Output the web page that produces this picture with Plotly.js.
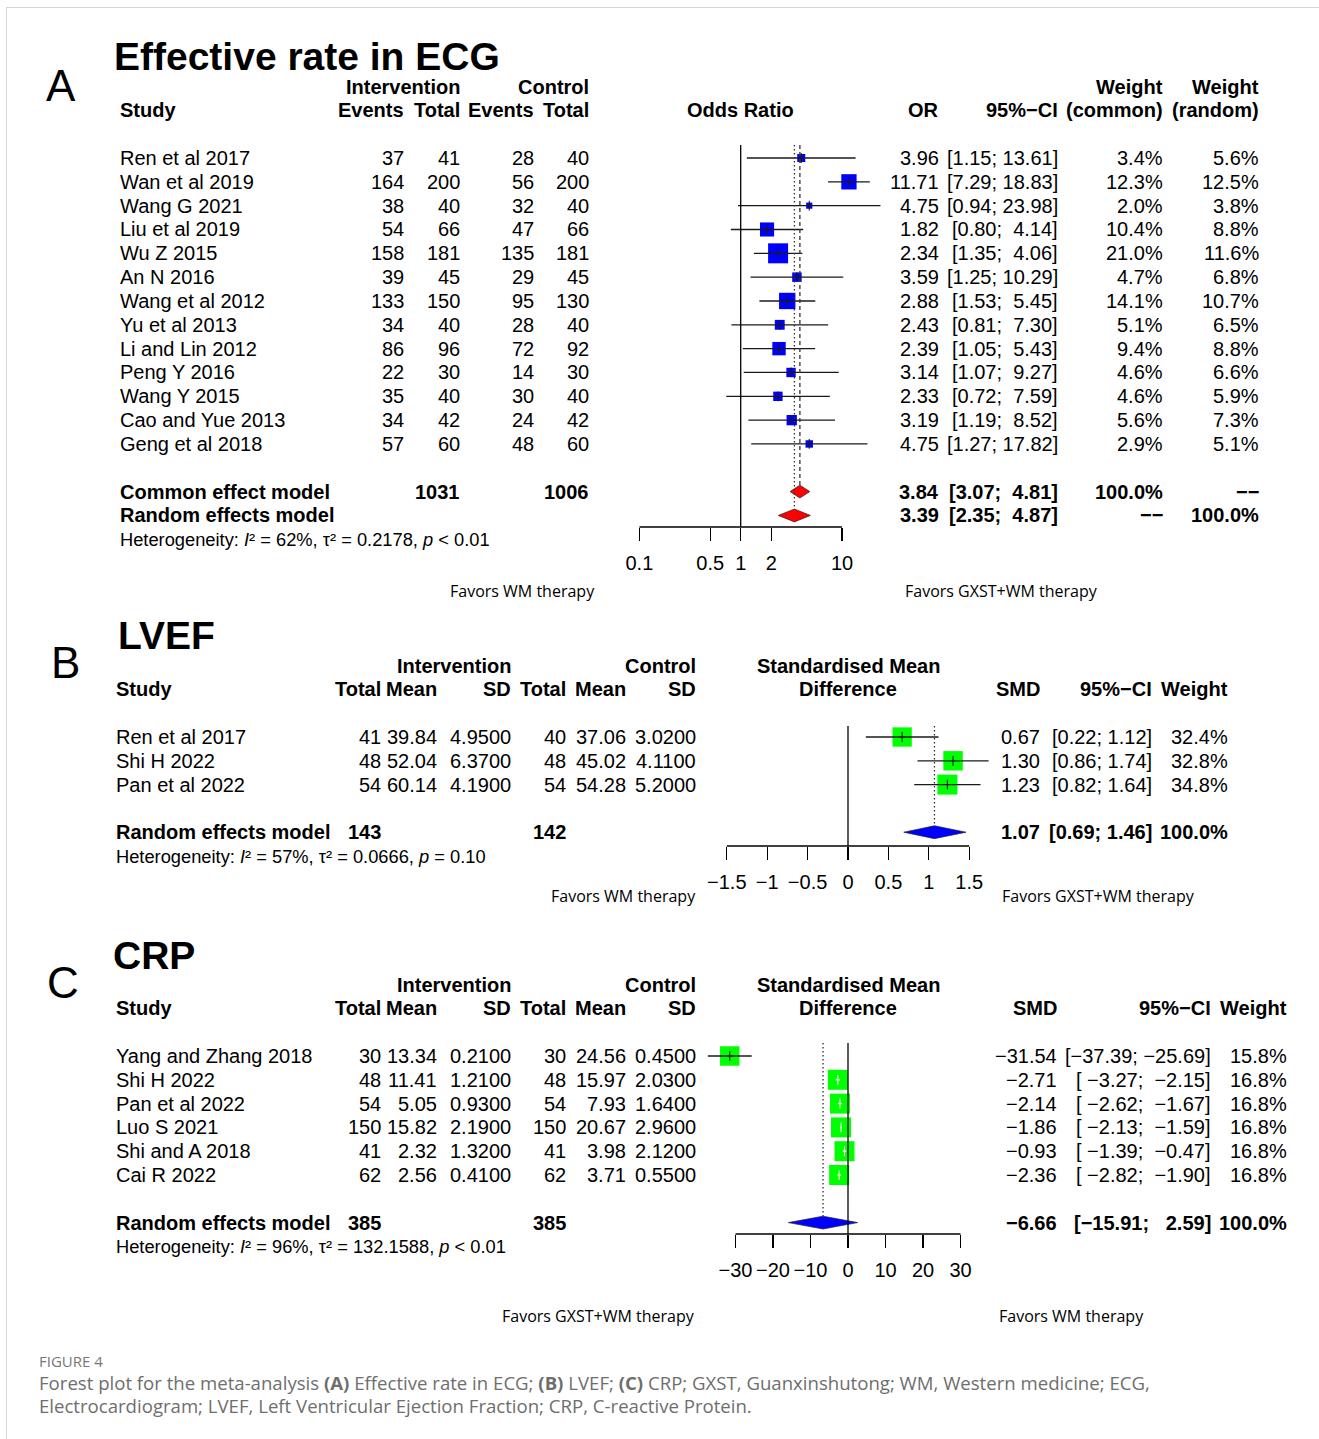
<!DOCTYPE html>
<html><head><meta charset="utf-8">
<script src="https://cdn.plot.ly/plotly-3.0.1.min.js"></script>
<style>html,body{margin:0;padding:0;background:#fff}#chart{width:1319px;height:1439px}</style>
</head><body><div id="chart"></div>
<script>
// ---------------- Panel A: Effective rate in ECG ----------------
const studiesA = ["Ren et al 2017","Wan et al 2019","Wang G 2021","Liu et al 2019","Wu Z 2015","An N 2016","Wang et al 2012","Yu et al 2013","Li and Lin 2012","Peng Y 2016","Wang Y 2015","Cao and Yue 2013","Geng et al 2018"];
const evIA = [37,164,38,54,158,39,133,34,86,22,35,34,57];
const totIA = [41,200,40,66,181,45,150,40,96,30,40,42,60];
const evCA = [28,56,32,47,135,29,95,28,72,14,30,24,48];
const totCA = [40,200,40,66,181,45,130,40,92,30,40,42,60];
const orA = [3.96,11.71,4.75,1.82,2.34,3.59,2.88,2.43,2.39,3.14,2.33,3.19,4.75];
const loA = [1.15,7.29,0.94,0.80,1.35,1.25,1.53,0.81,1.05,1.07,0.72,1.19,1.27];
const hiA = [13.61,18.83,23.98,4.14,4.06,10.29,5.45,7.30,5.43,9.27,7.59,8.52,17.82];
const wComA = [3.4,12.3,2.0,10.4,21.0,4.7,14.1,5.1,9.4,4.6,4.6,5.6,2.9];
const wRanA = [5.6,12.5,3.8,8.8,11.6,6.8,10.7,6.5,8.8,6.6,5.9,7.3,5.1];
const sumTotA = [1031, 1006];
const commonA = {est:3.84, lo:3.07, hi:4.81};
const randomA = {est:3.39, lo:2.35, hi:4.87};
const hetA = {I2:"62%", tau2:"0.2178", p:"&lt; 0.01"};
const ticksA = [0.1, 0.5, 1, 2, 10];
const tickLabA = ["0.1","0.5","1","2","10"];

// ---------------- Panel B: LVEF ----------------
const studiesB = ["Ren et al 2017","Shi H 2022","Pan et al 2022"];
const totIB = [41,48,54];
const meanIB = [39.84,52.04,60.14];
const sdIB = [4.95,6.37,4.19];
const totCB = [40,48,54];
const meanCB = [37.06,45.02,54.28];
const sdCB = [3.02,4.11,5.20];
const smdB = [0.67,1.30,1.23];
const loB = [0.22,0.86,0.82];
const hiB = [1.12,1.74,1.64];
const wB = [32.4,32.8,34.8];
const sumTotB = [143, 142];
const randomB = {est:1.07, lo:0.69, hi:1.46};
const hetB = {I2:"57%", tau2:"0.0666", p:"= 0.10"};
const ticksB = [-1.5,-1,-0.5,0,0.5,1,1.5];
const tickLabB = ["\u22121.5","\u22121","\u22120.5","0","0.5","1","1.5"];

// ---------------- Panel C: CRP ----------------
const studiesC = ["Yang and Zhang 2018","Shi H 2022","Pan et al 2022","Luo S 2021","Shi and A 2018","Cai R 2022"];
const totIC = [30,48,54,150,41,62];
const meanIC = [13.34,11.41,5.05,15.82,2.32,2.56];
const sdIC = [0.21,1.21,0.93,2.19,1.32,0.41];
const totCC = [30,48,54,150,41,62];
const meanCC = [24.56,15.97,7.93,20.67,3.98,3.71];
const sdCC = [0.45,2.03,1.64,2.96,2.12,0.55];
const smdC = [-31.54,-2.71,-2.14,-1.86,-0.93,-2.36];
const loC = [-37.39,-3.27,-2.62,-2.13,-1.39,-2.82];
const hiC = [-25.69,-2.15,-1.67,-1.59,-0.47,-1.90];
const wC = [15.8,16.8,16.8,16.8,16.8,16.8];
const sumTotC = [385, 385];
const randomC = {est:-6.66, lo:-15.91, hi:2.59};
const hetC = {I2:"96%", tau2:"132.1588", p:"&lt; 0.01"};
const ticksC = [-30,-20,-10,0,10,20,30];
const tickLabC = ["\u221230","\u221220","\u221210","0","10","20","30"];

// ---------------- helpers ----------------
const W = 1319, H = 1439;
const PX = p => p / W;
const PY = p => 1 - p / H;
const FONT = "Liberation Sans, Arial, Helvetica, sans-serif";
const NB = "\u00a0";
const DASH2 = "\u2212\u2212";
const fmt = (v, d) => v.toFixed(d).replace("-", "\u2212");
const pad = (s, n) => NB.repeat(Math.max(0, n - s.length)) + s;
function ciStrings(lo, hi, d) {
  const L = lo.map(v => fmt(v, d)), U = hi.map(v => fmt(v, d));
  const lm = Math.max(...L.map(s => s.length)), um = Math.max(...U.map(s => s.length));
  return L.map((s, i) => "[" + pad(s, lm) + ";" + NB + pad(U[i], um) + "]");
}

// Panel geometry (pixel layout of rows and forest region)
const geoA = {y1: 158, step: 23.83, top: 145, axis: 527, x0: 600, x1: 900, c: 740.7, k: 101.3};
const geoB = {y1: 737, step: 23.8, top: 726, axis: 846, x0: 700, x1: 1000, c: 848, k: 80.8};
const geoC = {y1: 1056, step: 23.8, top: 1043, axis: 1234, x0: 690, x1: 1000, c: 848, k: 3.75};
const rowAt = (g, p) => 1 + (p - g.y1) / g.step;
const rowPx = (g, r) => g.y1 + (r - 1) * g.step;

const ann = [];
function ptxt(text, xpx, ypx, o) {
  ann.push(Object.assign({
    text: text, x: PX(xpx), xref: "paper", y: PY(ypx), yref: "paper",
    xanchor: "right", yanchor: "middle", showarrow: false, borderpad: 0,
    font: {family: FONT, size: 20, color: "#000"}
  }, o || {}));
}
function txt(text, xpx, g, r, o) { ptxt(text, xpx, rowPx(g, r), o); }
const B = s => "<b>" + s + "</b>";

const traces = [];
const shapes = [];

function forest(xa, ya, est, lo, hi, w, fill, g, isLog) {
  const rows = est.map((_, i) => i + 1);
  const wmax = Math.max(...w);
  const sizes = w.map(v => 20 * Math.sqrt(v / wmax));
  const ciPx = lo.map((v, i) => isLog ? g.k * Math.log10(hi[i] / v) : g.k * (hi[i] - v));
  const inside = ciPx.map((p, i) => p < sizes[i]);
  traces.push({type: "scatter", mode: "markers", xaxis: xa, yaxis: ya, x: est, y: rows,
    marker: {symbol: "square", size: sizes, color: fill, opacity: 1, line: {width: 0}}, hoverinfo: "skip"});
  const bx = [], by = [], wx = [], wy = [];
  rows.forEach((r, i) => {
    const tx = inside[i] ? wx : bx, ty = inside[i] ? wy : by;
    tx.push(lo[i], hi[i], null); ty.push(r, r, null);
  });
  traces.push({type: "scatter", mode: "lines", xaxis: xa, yaxis: ya, x: bx, y: by,
    line: {color: "#1a1a1a", width: 1.3}, hoverinfo: "skip"});
  if (wx.length) traces.push({type: "scatter", mode: "lines", xaxis: xa, yaxis: ya, x: wx, y: wy,
    line: {color: "#fff", width: 1.3}, hoverinfo: "skip"});
  traces.push({type: "scatter", mode: "markers", xaxis: xa, yaxis: ya, x: est, y: rows,
    marker: {symbol: "line-ns", size: 7, opacity: 1, line: {width: 1.1, color: inside.map(b => b ? "#fff" : "#1a1a1a")}},
    hoverinfo: "skip"});
}
function diamond(xa, ya, s, row, fill) {
  const h = 0.27;
  traces.push({type: "scatter", mode: "lines", xaxis: xa, yaxis: ya,
    x: [s.lo, s.est, s.hi, s.est, s.lo], y: [row, row - h, row, row + h, row],
    fill: "toself", fillcolor: fill, line: {color: "#222", width: 0.7}, hoverinfo: "skip"});
}
function vline(xa, ya, x, y0, y1, dash, yref) {
  shapes.push({type: "line", xref: xa, yref: yref || ya, x0: x, x1: x, y0: y0, y1: y1,
    line: {color: dash ? "#333" : "#000", width: 1.3, dash: dash || "solid"}, layer: "above"});
}
const het = (h) => "Heterogeneity: <i>I</i>\u00b2 = " + h.I2 + ", \u03c4\u00b2 = " + h.tau2 + ", <i>p</i> " + h.p;
const hetFont = {family: FONT, size: 18.3, color: "#000"};
const favFont = {family: "Open Sans, Noto Sans, sans-serif", size: 16, color: "#000"};

// ================= Panel A =================
forest("x", "y", orA, loA, hiA, wComA, "#0000ff", geoA, true);
diamond("x", "y", commonA, 15, "#ff0000");
diamond("x", "y", randomA, 16, "#ff0000");
vline("x", "y", 1, 0, 1, null, "y domain");
vline("x", "y", commonA.est, rowAt(geoA, geoA.top), 15 - 0.27, "4px,3px");
vline("x", "y", randomA.est, rowAt(geoA, geoA.top), 16 - 0.27, "1.5px,2.5px");
shapes.push({type: "line", xref: "x", yref: "y domain", x0: ticksA[0], x1: ticksA[ticksA.length - 1], y0: 0, y1: 0, line: {color: "#000", width: 1.3}});

ptxt("A", 45, 85, {xanchor: "left", font: {family: FONT, size: 44, color: "#000"}});
ptxt(B("Effective rate in ECG"), 113, 57, {xanchor: "left", font: {family: FONT, size: 39, color: "#000"}});
txt(B("Intervention"), 461, geoA, -2);
txt(B("Control"), 590, geoA, -2);
txt(B("Weight"), 1164, geoA, -2);
txt(B("Weight"), 1260, geoA, -2);
txt(B("Study"), 119, geoA, -1, {xanchor: "left"});
txt(B("Events"), 405, geoA, -1);
txt(B("Total"), 461, geoA, -1);
txt(B("Events"), 535, geoA, -1);
txt(B("Total"), 590, geoA, -1);
txt(B("Odds Ratio"), 740.5, geoA, -1, {xanchor: "center"});
txt(B("OR"), 940, geoA, -1);
txt(B("95%\u2212CI"), 1059, geoA, -1);
txt(B("(common)"), 1164, geoA, -1);
txt(B("(random)"), 1260, geoA, -1);
const ciA = ciStrings(loA.concat([commonA.lo, randomA.lo]), hiA.concat([commonA.hi, randomA.hi]), 2);
studiesA.forEach((s, i) => {
  const r = i + 1;
  txt(s, 119, geoA, r, {xanchor: "left"});
  txt(String(evIA[i]), 405, geoA, r);
  txt(String(totIA[i]), 461, geoA, r);
  txt(String(evCA[i]), 535, geoA, r);
  txt(String(totCA[i]), 590, geoA, r);
  txt(fmt(orA[i], 2), 940, geoA, r);
  txt(ciA[i], 1059, geoA, r);
  txt(wComA[i].toFixed(1) + "%", 1164, geoA, r);
  txt(wRanA[i].toFixed(1) + "%", 1260, geoA, r);
});
txt(B("Common effect model"), 119, geoA, 15, {xanchor: "left"});
txt(B(sumTotA[0]), 461, geoA, 15);
txt(B(sumTotA[1]), 590, geoA, 15);
txt(B(fmt(commonA.est, 2)), 940, geoA, 15);
txt(B(ciA[13]), 1059, geoA, 15);
txt(B("100.0%"), 1164, geoA, 15);
txt(B(DASH2), 1260, geoA, 15);
txt(B("Random effects model"), 119, geoA, 16, {xanchor: "left"});
txt(B(fmt(randomA.est, 2)), 940, geoA, 16);
txt(B(ciA[14]), 1059, geoA, 16);
txt(B(DASH2), 1164, geoA, 16);
txt(B("100.0%"), 1260, geoA, 16);
txt(het(hetA), 119, geoA, 17, {xanchor: "left", font: hetFont});
ptxt("Favors WM therapy", 522, 591, {xanchor: "center", font: favFont});
ptxt("Favors GXST+WM therapy", 1001.5, 591, {xanchor: "center", font: favFont});

// ================= Panels B & C shared text =================
function meanHeaders(g, cols) {
  txt(B("Intervention"), 512, g, -2);
  txt(B("Control"), 697, g, -2);
  txt(B("Standardised Mean"), 848, g, -2, {xanchor: "center"});
  txt(B("Study"), 115, g, -1, {xanchor: "left"});
  txt(B("Total"), 382, g, -1);
  txt(B("Mean"), 438, g, -1);
  txt(B("SD"), 512, g, -1);
  txt(B("Total"), 567, g, -1);
  txt(B("Mean"), 627, g, -1);
  txt(B("SD"), 697, g, -1);
  txt(B("Difference"), 848, g, -1, {xanchor: "center"});
  txt(B("SMD"), cols[0], g, -1);
  txt(B("95%\u2212CI"), cols[1], g, -1);
  txt(B("Weight"), cols[2], g, -1);
}
function meanRows(g, st, tI, mI, sI, tC, mC, sC, est, ci, w, cols) {
  st.forEach((s, i) => {
    const r = i + 1;
    txt(s, 115, g, r, {xanchor: "left"});
    txt(String(tI[i]), 382, g, r);
    txt(mI[i].toFixed(2), 438, g, r);
    txt(sI[i].toFixed(4), 512, g, r);
    txt(String(tC[i]), 567, g, r);
    txt(mC[i].toFixed(2), 627, g, r);
    txt(sC[i].toFixed(4), 697, g, r);
    txt(fmt(est[i], 2), cols[0], g, r);
    txt(ci[i], cols[1], g, r);
    txt(w[i].toFixed(1) + "%", cols[2], g, r);
  });
}

// ================= Panel B =================
forest("x2", "y2", smdB, loB, hiB, wB, "#00ff00", geoB, false);
diamond("x2", "y2", randomB, 5, "#0000ff");
vline("x2", "y2", 0, 0, 1, null, "y2 domain");
vline("x2", "y2", randomB.est, rowAt(geoB, geoB.top), 5 - 0.27, "1.5px,2.5px");
shapes.push({type: "line", xref: "x2", yref: "y2 domain", x0: ticksB[0], x1: ticksB[ticksB.length - 1], y0: 0, y1: 0, line: {color: "#000", width: 1.3}});

ptxt("B", 50, 662, {xanchor: "left", font: {family: FONT, size: 44, color: "#000"}});
ptxt(B("LVEF"), 117, 635, {xanchor: "left", font: {family: FONT, size: 39, color: "#000"}});
const colsB = [1041, 1153, 1229];
meanHeaders(geoB, colsB);
const ciB = ciStrings(loB.concat([randomB.lo]), hiB.concat([randomB.hi]), 2);
meanRows(geoB, studiesB, totIB, meanIB, sdIB, totCB, meanCB, sdCB, smdB, ciB, wB, colsB);
txt(B("Random effects model"), 115, geoB, 5, {xanchor: "left"});
txt(B(sumTotB[0]), 382, geoB, 5);
txt(B(sumTotB[1]), 567, geoB, 5);
txt(B(fmt(randomB.est, 2)), colsB[0], geoB, 5);
txt(B(ciB[3]), colsB[1], geoB, 5);
txt(B("100.0%"), colsB[2], geoB, 5);
txt(het(hetB), 115, geoB, 6, {xanchor: "left", font: hetFont});
ptxt("Favors WM therapy", 623, 896, {xanchor: "center", font: favFont});
ptxt("Favors GXST+WM therapy", 1098.5, 896, {xanchor: "center", font: favFont});

// ================= Panel C =================
forest("x3", "y3", smdC, loC, hiC, wC, "#00ff00", geoC, false);
diamond("x3", "y3", randomC, 8, "#0000ff");
vline("x3", "y3", 0, 0, 1, null, "y3 domain");
vline("x3", "y3", randomC.est, rowAt(geoC, geoC.top), 8 - 0.27, "1.5px,2.5px");
shapes.push({type: "line", xref: "x3", yref: "y3 domain", x0: ticksC[0], x1: ticksC[ticksC.length - 1], y0: 0, y1: 0, line: {color: "#000", width: 1.3}});

ptxt("C", 46, 982, {xanchor: "left", font: {family: FONT, size: 44, color: "#000"}});
ptxt(B("CRP"), 112, 955, {xanchor: "left", font: {family: FONT, size: 39, color: "#000"}});
const colsC = [1058, 1212, 1288];
meanHeaders(geoC, colsC);
const ciC = ciStrings(loC.concat([randomC.lo]), hiC.concat([randomC.hi]), 2);
meanRows(geoC, studiesC, totIC, meanIC, sdIC, totCC, meanCC, sdCC, smdC, ciC, wC, colsC);
txt(B("Random effects model"), 115, geoC, 8, {xanchor: "left"});
txt(B(sumTotC[0]), 382, geoC, 8);
txt(B(sumTotC[1]), 567, geoC, 8);
txt(B(fmt(randomC.est, 2)), colsC[0], geoC, 8);
txt(B(ciC[6]), colsC[1], geoC, 8);
txt(B("100.0%"), colsC[2], geoC, 8);
txt(het(hetC), 115, geoC, 9, {xanchor: "left", font: hetFont});
ptxt("Favors GXST+WM therapy", 598.5, 1316, {xanchor: "center", font: favFont});
ptxt("Favors WM therapy", 1071, 1316, {xanchor: "center", font: favFont});

// ================= Caption & frame =================
const capFont = {family: "Open Sans, Noto Sans, sans-serif", size: 18.6, color: "#6e6e6e"};
ptxt("FIGURE 4", 38, 1361, {xanchor: "left", font: {family: "Open Sans, Noto Sans, sans-serif", size: 15, color: "#777"}});
ptxt("Forest plot for the meta-analysis <b>(A)</b> Effective rate in ECG; <b>(B)</b> LVEF; <b>(C)</b> CRP; GXST, Guanxinshutong; WM, Western medicine; ECG,", 38, 1382, {xanchor: "left", font: capFont});
ptxt("Electrocardiogram; LVEF, Left Ventricular Ejection Fraction; CRP, C-reactive Protein.", 38, 1405, {xanchor: "left", font: capFont});
shapes.push({type: "line", xref: "paper", yref: "paper", x0: PX(6), x1: 1, y0: PY(7.5), y1: PY(7.5), line: {color: "#d6d6d6", width: 1}});
shapes.push({type: "line", xref: "paper", yref: "paper", x0: PX(6.5), x1: PX(6.5), y0: 0, y1: PY(7.5), line: {color: "#d6d6d6", width: 1}});

// ================= Axes =================
function xax(g, ya, ticks, labs, isLog) {
  const f = p => (p - g.c) / g.k;
  return {domain: [PX(g.x0), PX(g.x1)], range: [f(g.x0), f(g.x1)], type: isLog ? "log" : "linear",
    anchor: ya, showgrid: false, zeroline: false, showline: false,
    ticks: "outside", ticklen: 13, tickwidth: 1.3, tickcolor: "#000",
    tickvals: ticks, ticktext: labs, tickfont: {family: FONT, size: 20, color: "#000"},
    ticklabelstandoff: 5, fixedrange: true};
}
function yax(g) {
  return {domain: [PY(g.axis), PY(g.top)], range: [rowAt(g, g.axis), rowAt(g, g.top)],
    visible: false, showgrid: false, zeroline: false, fixedrange: true};
}
const layout = {
  width: W, height: H, margin: {l: 0, r: 0, t: 0, b: 0},
  paper_bgcolor: "#fff", plot_bgcolor: "rgba(0,0,0,0)", showlegend: false,
  font: {family: FONT, size: 20, color: "#000"},
  xaxis: xax(geoA, "y", ticksA, tickLabA, true), yaxis: yax(geoA),
  xaxis2: xax(geoB, "y2", ticksB, tickLabB, false), yaxis2: yax(geoB),
  xaxis3: xax(geoC, "y3", ticksC, tickLabC, false), yaxis3: yax(geoC),
  annotations: ann, shapes: shapes
};
Plotly.newPlot("chart", traces, layout, {staticPlot: true, displayModeBar: false});
</script>
</body></html>
